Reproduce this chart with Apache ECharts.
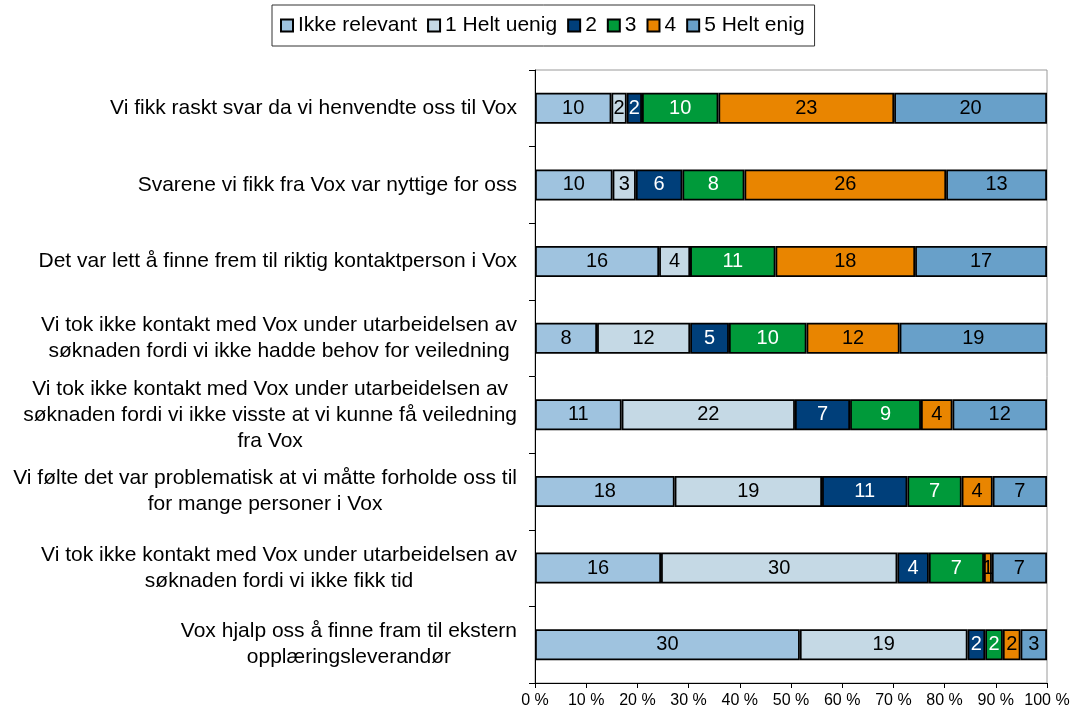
<!DOCTYPE html>
<html><head><meta charset="utf-8">
<script src="https://cdn.jsdelivr.net/npm/echarts@6/dist/echarts.min.js"></script>
<style>html,body{margin:0;padding:0;background:#fff}#c{width:1071px;height:709px}</style>
</head><body><div id="c"></div>
<script>
const categories = [
  "Vi fikk raskt svar da vi henvendte oss til Vox",
  "Svarene vi fikk fra Vox var nyttige for oss",
  "Det var lett å finne frem til riktig kontaktperson i Vox",
  "Vi tok ikke kontakt med Vox under utarbeidelsen av\nsøknaden fordi vi ikke hadde behov for veiledning",
  "Vi tok ikke kontakt med Vox under utarbeidelsen av\nsøknaden fordi vi ikke visste at vi kunne få veiledning\nfra Vox",
  "Vi følte det var problematisk at vi måtte forholde oss til\nfor mange personer i Vox",
  "Vi tok ikke kontakt med Vox under utarbeidelsen av\nsøknaden fordi vi ikke fikk tid",
  "Vox hjalp oss å finne fram til ekstern\nopplæringsleverandør"
];
const seriesNames = ["Ikke relevant", "1 Helt uenig", "2", "3", "4", "5 Helt enig"];
const ikkeRelevant = [10, 10, 16, 8, 11, 18, 16, 30];
const heltUenig    = [2, 3, 4, 12, 22, 19, 30, 19];
const to           = [2, 6, 0, 5, 7, 11, 4, 2];
const tre          = [10, 8, 11, 10, 9, 7, 7, 2];
const fire         = [23, 26, 18, 12, 4, 4, 1, 2];
const heltEnig     = [20, 13, 17, 19, 12, 7, 7, 3];
const xTicks = [0, 10, 20, 30, 40, 50, 60, 70, 80, 90, 100];

const allSeries = [ikkeRelevant, heltUenig, to, tre, fire, heltEnig];
const colors = ["#9fc3df", "#c5d9e5", "#003f7a", "#009a3a", "#e98500", "#68a0c9"];
const labelColors = ["#000", "#000", "#fff", "#fff", "#000", "#000"];
const totals = categories.map((_, i) => allSeries.reduce((s, arr) => s + arr[i], 0));

const FONT = "'Liberation Sans', Arial, sans-serif";

const chart = echarts.init(document.getElementById('c'), null, {renderer: 'canvas'});
chart.setOption({
  animation: false,
  textStyle: {fontFamily: FONT},
  legend: {
    top: 5, left: 272,
    orient: 'horizontal',
    itemWidth: 12, itemHeight: 12, itemGap: 10,
    borderColor: '#333', borderWidth: 1,
    padding: [10, 10, 10, 8],
    textStyle: {fontFamily: FONT, fontSize: 21, color: '#000'},
    icon: 'rect',
    data: seriesNames
  },
  grid: {
    left: 535, right: 24, top: 70, bottom: 26,
    outerBoundsMode: 'none', containLabel: false,
    show: true, borderColor: '#9a9a9a', borderWidth: 1
  },
  xAxis: {
    type: 'value', min: 0, max: 100, interval: 10,
    axisLine: {show: true, lineStyle: {color: '#000', width: 1}},
    axisTick: {show: true, length: 5, lineStyle: {color: '#000'}},
    splitLine: {show: false},
    axisLabel: {
      fontFamily: FONT, fontSize: 16, color: '#000', margin: 10,
      formatter: v => xTicks.includes(v) ? v + ' %' : ''
    }
  },
  yAxis: {
    type: 'category', inverse: true,
    data: categories,
    axisLine: {show: true, lineStyle: {color: '#000', width: 1}},
    axisTick: {show: true, length: 6, lineStyle: {color: '#000'}},
    axisLabel: {
      interval: 0,
      fontFamily: FONT, fontSize: 21, color: '#000', margin: 18,
      align: 'right', lineHeight: 26,
      formatter: v => v.split('\n').map(l => '{c|' + l + '}').join('\n'),
      rich: {c: {align: 'center', fontFamily: FONT, fontSize: 21, lineHeight: 26, color: '#000'}}
    }
  },
  series: allSeries.map((arr, si) => ({
    name: seriesNames[si],
    type: 'bar',
    stack: 'total',
    barWidth: 31,
    itemStyle: {color: colors[si], borderColor: '#000', borderWidth: 1.8},
    label: {
      show: true, position: 'inside',
      fontFamily: FONT, fontSize: 20, color: labelColors[si],
      formatter: p => arr[p.dataIndex] === 0 ? '' : String(arr[p.dataIndex])
    },
    data: arr.map((v, i) => v / totals[i] * 100)
  }))
});
</script>
</body></html>
